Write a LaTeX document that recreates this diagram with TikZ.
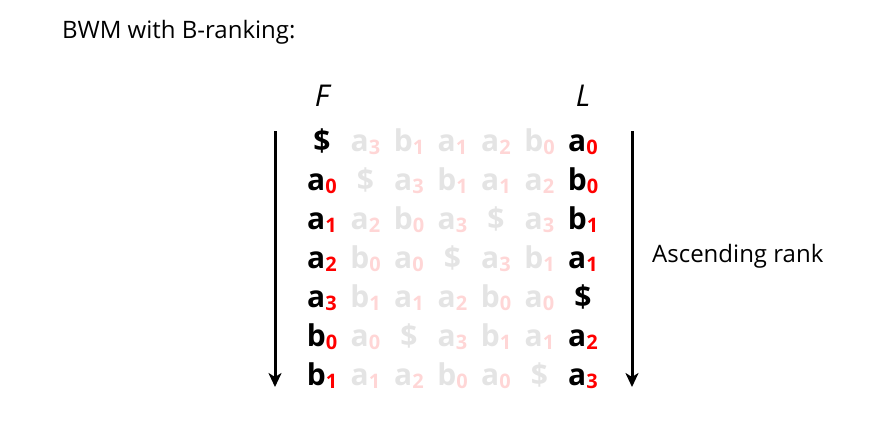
\documentclass[tikz,border=0pt]{standalone}
\usepackage{fontspec}
\setmainfont{Open Sans}
\usetikzlibrary{arrows.meta}
\definecolor{faint}{RGB}{228,228,228}
\definecolor{faintsub}{RGB}{255,214,214}
\newcommand{\subcolor}{red}
\newcommand{\tok}[2]{#1{\fontsize{20}{20}\selectfont\raisebox{-3pt}{\textcolor{\subcolor}{#2}}}}
\tikzset{
  cell/.style={anchor=base, inner sep=0pt, font=\fontsize{30}{30}\selectfont\bfseries},
  keycell/.style={cell, text=black, execute at begin node={\renewcommand{\subcolor}{red}}},
  fadecell/.style={cell, text=faint, execute at begin node={\renewcommand{\subcolor}{faintsub}}},
  head/.style={anchor=base, inner sep=0pt, font=\fontsize{30}{30}\selectfont\itshape},
  label/.style={anchor=base west, inner sep=0pt, font=\fontsize{24}{24}\selectfont},
  rankarrow/.style={line width=3pt, -{Stealth[length=14pt,width=13pt,inset=4pt]}}
}
\begin{document}
\begin{tikzpicture}[x=1pt,y=-1pt]
\useasboundingbox (0,0) rectangle (888,421);
\node[label] (title) at (62,38) {BWM with B-ranking:};
\node[head] (F) at (322,106) {F};
\node[head] (L) at (583,106) {L};
\foreach \row [count=\r] in {%
  {{\tok{\$}{}},{\tok{a}{3}},{\tok{b}{1}},{\tok{a}{1}},{\tok{a}{2}},{\tok{b}{0}},{\tok{a}{0}}},%
  {{\tok{a}{0}},{\tok{\$}{}},{\tok{a}{3}},{\tok{b}{1}},{\tok{a}{1}},{\tok{a}{2}},{\tok{b}{0}}},%
  {{\tok{a}{1}},{\tok{a}{2}},{\tok{b}{0}},{\tok{a}{3}},{\tok{\$}{}},{\tok{a}{3}},{\tok{b}{1}}},%
  {{\tok{a}{2}},{\tok{b}{0}},{\tok{a}{0}},{\tok{\$}{}},{\tok{a}{3}},{\tok{b}{1}},{\tok{a}{1}}},%
  {{\tok{a}{3}},{\tok{b}{1}},{\tok{a}{1}},{\tok{a}{2}},{\tok{b}{0}},{\tok{a}{0}},{\tok{\$}{}}},%
  {{\tok{b}{0}},{\tok{a}{0}},{\tok{\$}{}},{\tok{a}{3}},{\tok{b}{1}},{\tok{a}{1}},{\tok{a}{2}}},%
  {{\tok{b}{1}},{\tok{a}{1}},{\tok{a}{2}},{\tok{b}{0}},{\tok{a}{0}},{\tok{\$}{}},{\tok{a}{3}}}%
}{
  \foreach \t [count=\c] in \row {
    \pgfmathsetmacro{\xx}{322+43.5*(\c-1)}
    \pgfmathsetmacro{\yy}{151+39*(\r-1)}
    \ifnum\c=1 \def\cs{keycell}\else\ifnum\c=7 \def\cs{keycell}\else\def\cs{fadecell}\fi\fi
    \node[\cs] (m-\r-\c) at (\xx,\yy) {\t};
  }
}
\coordinate (lt) at (275,131);
\coordinate (lb) at (275,387);
\coordinate (rt) at (632,131);
\coordinate (rb) at (632,387);
\draw[rankarrow] (lt) -- (lb);
\draw[rankarrow] (rt) -- (rb);
\node[label] (asc) at (652,262) {Ascending rank};
\end{tikzpicture}
\end{document}
